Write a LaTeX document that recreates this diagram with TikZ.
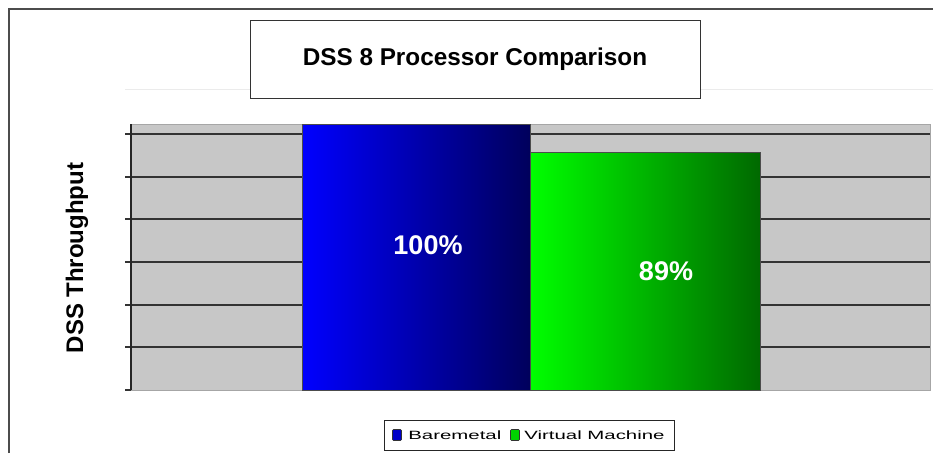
\documentclass[tikz,border=0pt]{standalone}
\usepackage{fontspec}
\setmainfont{Liberation Sans}
\begin{document}
\begin{tikzpicture}[x=1pt,y=-1pt,
  frameline/.style={draw=black!70,line width=1.4pt},
  gridline/.style={draw=black!80,line width=2pt},
  barlabel/.style={text=white,font=\bfseries\fontsize{27}{32}\selectfont},
  legtext/.style={font=\fontsize{12}{14}\selectfont,xscale=1.7,inner sep=0pt,anchor=west},
  legsq/.style={draw=black!80,line width=0.6pt,rounded corners=1pt,minimum width=9pt,minimum height=11pt,inner sep=0pt}]
\useasboundingbox (0,0) rectangle (933,453);
\fill[white] (0,0) rectangle (933,453);

% chart frame (open to the right and bottom)
\draw[frameline] (9,453) -- (9,9) -- (933,9);

% faint plot-area top rule
\draw[black!8,line width=1pt] (125,89) -- (933,89);

% plot area
\fill[black!22] (131,124) rectangle (930,390);
\draw[black!35,line width=0.8pt] (131,124) -- (930,124) -- (930,390) -- (131,390);

% gridlines and ticks
\foreach \yy in {134,177,219,262,305,347} {
  \draw[gridline] (125,\yy) -- (930,\yy);
}
\draw[gridline] (125,390) -- (131,390);
\draw[black!85,line width=1.5pt] (131,124) -- (131,390);

% bars
\shade[left color={rgb,255:red,0;green,0;blue,255},right color={rgb,255:red,0;green,0;blue,92}]
  (302,124) rectangle (530,390);
\draw[black!70,line width=0.8pt] (302,124) rectangle (530,390);
\shade[left color={rgb,255:red,0;green,255;blue,0},right color={rgb,255:red,0;green,105;blue,0}]
  (530,152) rectangle (760,390);
\draw[black!70,line width=0.8pt] (530,152) rectangle (760,390);

\node[barlabel] (lb) at (428,245) {100\%};
\node[barlabel] (lg) at (666,271) {89\%};

% title
\node[draw=black!80,line width=1pt,fill=white,minimum width=450pt,minimum height=78pt,inner sep=0pt]
  (title) at (475,59) {};
\node[font=\bfseries\fontsize{24.3}{29}\selectfont] (titletext) at (475,59) {DSS 8 Processor Comparison};

% axis label
\node[rotate=90,font=\bfseries\fontsize{24}{28}\selectfont] (ylab) at (77,258) {DSS Throughput};

% legend
\node[draw=black!85,line width=1pt,fill=white,minimum width=290pt,minimum height=30pt,inner sep=0pt]
  (legend) at (529,435.5) {};
\node[legsq,fill={rgb,255:red,0;green,0;blue,200}] (sqb) at (397,435) {};
\node[legtext] (tb) at (408,435.5) {Baremetal};
\node[legsq,fill={rgb,255:red,0;green,210;blue,0}] (sqg) at (515,435) {};
\node[legtext] (tg) at (524,435.5) {Virtual Machine};
\end{tikzpicture}
\end{document}
